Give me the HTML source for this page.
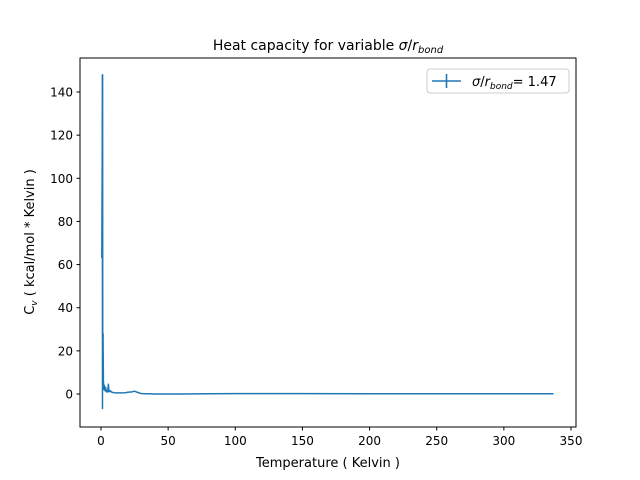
<!DOCTYPE html>
<html><head><meta charset="utf-8"><style>
body{margin:0;background:#fff;}
svg{display:block;font-family:"DejaVu Sans","Liberation Sans",sans-serif;}
</style></head><body>
<svg id="chart" width="640" height="480">
<rect x="0" y="0" width="640" height="480" fill="#fff"/>
<text x="328" y="50" text-anchor="middle" font-size="14">Heat capacity for variable <tspan font-style="italic">σ</tspan>/<tspan font-style="italic">r</tspan><tspan font-style="italic" font-size="10" dy="3">bond</tspan></text>
<g id="plot"></g>
<rect x="80" y="58" width="496" height="369" fill="none" stroke="#000" stroke-width="1"/>
<text x="328" y="467" text-anchor="middle" font-size="13">Temperature ( Kelvin )</text>
<text transform="translate(34,242) rotate(-90)" text-anchor="middle" font-size="13">C<tspan font-size="9" dy="3" font-style="italic">v</tspan><tspan dy="-3"> ( kcal/mol * Kelvin )</tspan></text>
<g>
<rect x="427" y="69" width="142" height="24" rx="3" fill="#fff" stroke="#ccc"/>
<line x1="432" y1="81" x2="461" y2="81" stroke="#1f77b4" stroke-width="1.6"/>
<line x1="446.5" y1="74" x2="446.5" y2="88" stroke="#1f77b4" stroke-width="1.6"/>
<text x="472" y="86" font-size="13"><tspan font-style="italic">σ</tspan>/<tspan font-style="italic">r</tspan><tspan font-style="italic" font-size="9" dy="3">bond</tspan><tspan dy="-3">= 1.47</tspan></text>
</g>
</svg>
<script>
const temps=[0.6,0.9,1.1,1.3,1.5,1.8,2.1,2.5,3,3.5,4,4.5,5,5.5,6,7,8,10,12,15,18,20,23,25,27,30,35,40,50,60,80,100,120,150,200,250,300,337];
const cvValues=[63,108,148,4,28,6,2,4,1.5,3,1,1.5,1,4.5,1,1.5,0.8,0.6,0.5,0.5,0.6,0.8,1,1.3,0.8,0.2,0.1,0,0,0,0.1,0.2,0.2,0.2,0.1,0.1,0.1,0.1];
const cvErrors=[0,0,150,0,2,0,0,0,0,0,0,0,0,0,0,0,0,0,0,0,0,0,0,0,0,0,0,0,0,0,0,0,0,0,0,0,0,0];
const xTicks=[0,50,100,150,200,250,300,350];
const yTicks=[0,20,40,60,80,100,120,140];
const sx=v=>101+v*(470/350);
const sy=v=>394-v*(302/140);
const g=document.getElementById('plot');
const NS='http://www.w3.org/2000/svg';
function mk(t,a){const e=document.createElementNS(NS,t);for(const k in a)e.setAttribute(k,a[k]);g.appendChild(e);return e;}
xTicks.forEach(v=>{
 const l=mk('line',{x1:sx(v),x2:sx(v),y1:427,y2:430.5,stroke:'#000'});
 
 
 const t=mk('text',{x:sx(v),y:445,'text-anchor':'middle','font-size':12});
 t.textContent=v;
 
 
});
yTicks.forEach(v=>{
 const l=mk('line',{x1:76.5,x2:80,y1:sy(v),y2:sy(v),stroke:'#000'});
 
 
 const t=mk('text',{x:73,y:sy(v)+4.5,'text-anchor':'end','font-size':12});
 t.textContent=v;
 
 
});
temps.forEach((T,i)=>{
 if(cvErrors[i]>0){
  const e=mk('line',{x1:sx(T),x2:sx(T),y1:sy(cvValues[i]-cvErrors[i]+(cvErrors[i]>100?-5:0)),y2:sy(cvValues[i]),stroke:'#1f77b4','stroke-width':1.5});
  
  
 }
});
const pts=temps.map((T,i)=>sx(T)+','+sy(cvValues[i])).join(' ');
const line=mk('polyline',{points:pts,fill:'none',stroke:'#1f77b4','stroke-width':1.5,'stroke-linejoin':'round'});


</script>
</body></html>
